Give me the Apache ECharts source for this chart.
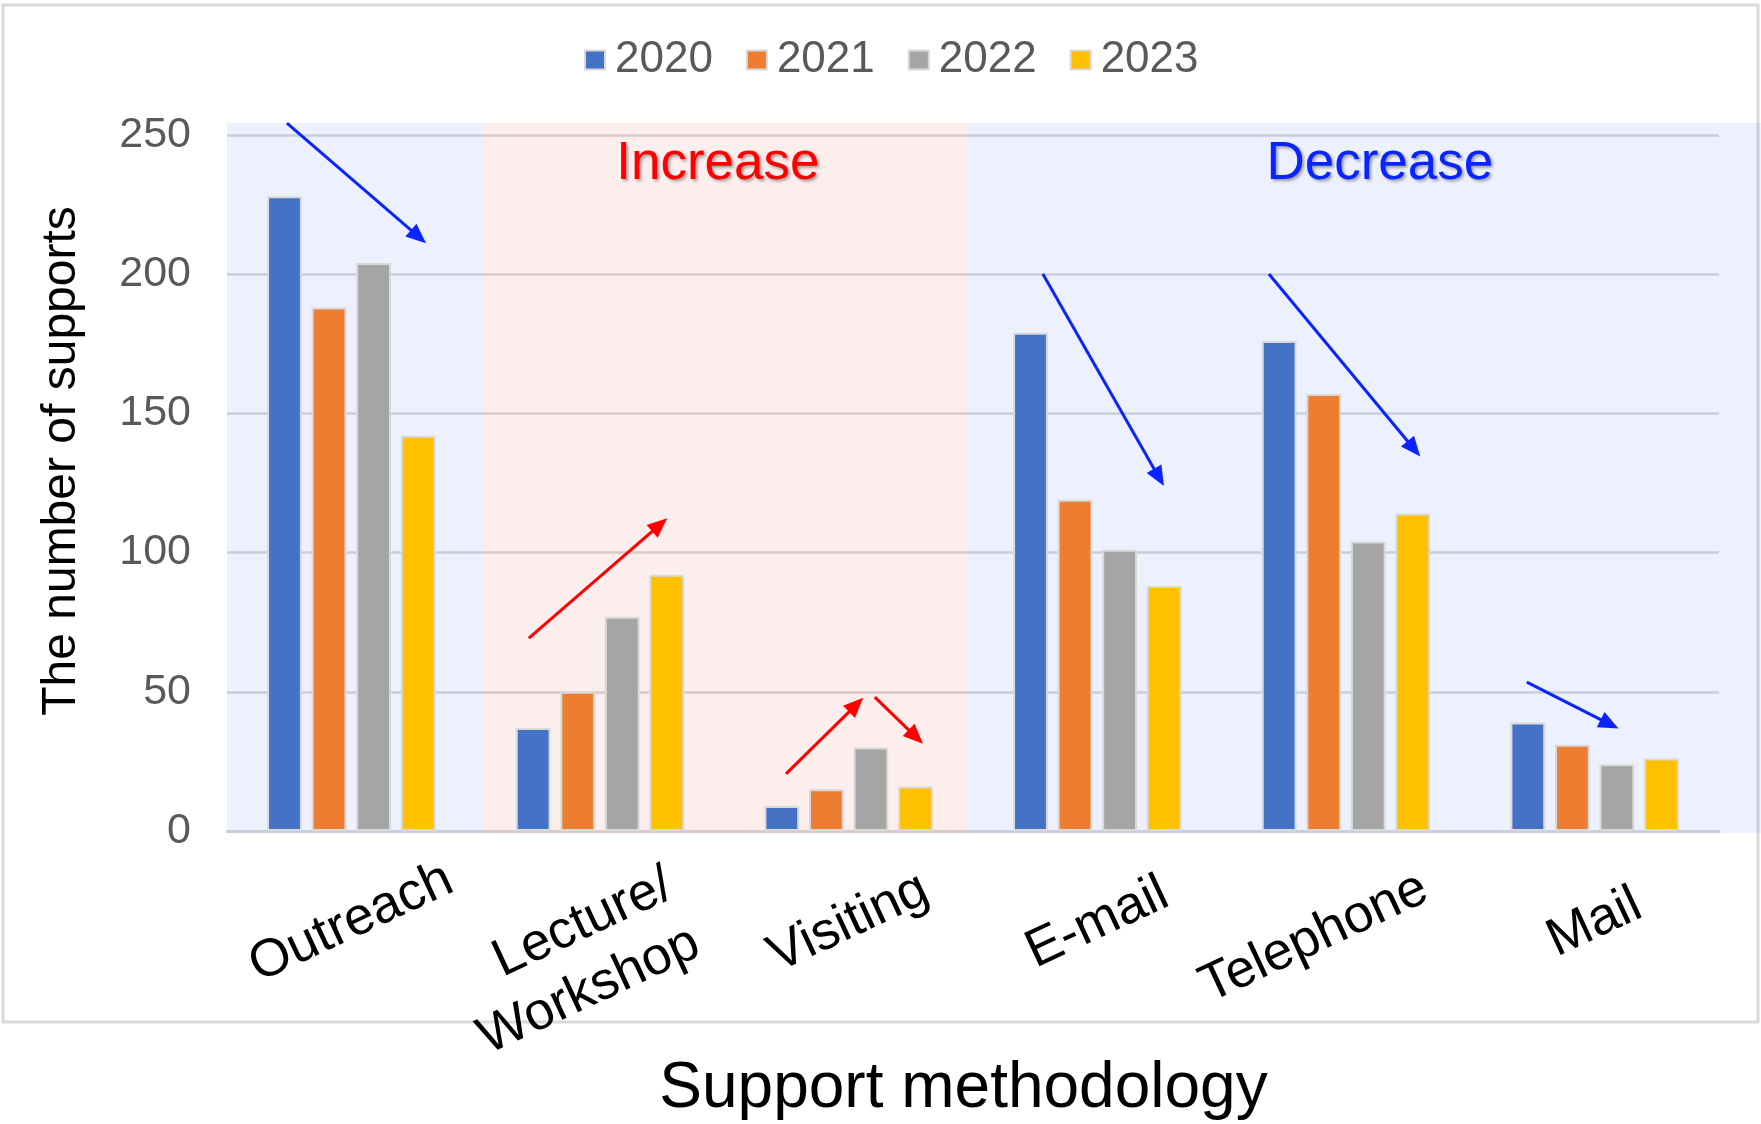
<!DOCTYPE html>
<html>
<head>
<meta charset="utf-8">
<script src="https://cdn.jsdelivr.net/npm/echarts@6/dist/echarts.min.js"></script>
<style>
  html, body { margin: 0; padding: 0; background: #ffffff; }
  #chart { width: 1761px; height: 1124px; }
</style>
</head>
<body>
<div id="chart"></div>
<script>
// ---- data ----
const categories = ['Outreach', 'Lecture/\nWorkshop', 'Visiting', 'E-mail', 'Telephone', 'Mail'];
const years = ['2020', '2021', '2022', '2023'];
const v2020 = [228, 37, 9, 179, 176, 39];
const v2021 = [188, 50, 15, 119, 157, 31];
const v2022 = [204, 77, 30, 101, 104, 24];
const v2023 = [142, 92, 16, 88, 114, 26];
const yTicks = [0, 50, 100, 150, 200, 250];

// trend annotations, in data units (x: category units 0..6, y: value)
const trendBands = [
  { from: 0, to: 1.033, tone: 'blue' },
  { from: 1.033, to: 2.976, tone: 'red' },
  { from: 2.976, to: 6.168, tone: 'blue' }
];
const trendArrows = [
  { tone: 'blue', from: [0.241, 254.3], to: [0.770, 213.5] },
  { tone: 'red',  from: [1.214, 69.3],  to: [1.740, 110.0] },
  { tone: 'red',  from: [2.248, 20.5],  to: [2.530, 45.3] },
  { tone: 'red',  from: [2.605, 48.1],  to: [2.770, 33.8] },
  { tone: 'blue', from: [3.281, 200.1], to: [3.748, 127.0] },
  { tone: 'blue', from: [4.190, 200.1], to: [4.773, 137.3] },
  { tone: 'blue', from: [5.227, 53.5],  to: [5.560, 38.4] }
];
const trendTexts = [
  { text: 'Increase', tone: 'red', at: [1.974, 239.5] },
  { text: 'Decrease', tone: 'blue', at: [4.636, 239.5] }
];

// ---- styles ----
const FONT = '"Liberation Sans", Arial, Helvetica, sans-serif';
const yearColors = ['#4472C4', '#ED7D31', '#A5A5A5', '#FFC000'];
const bandFill = { blue: 'rgba(30,90,235,0.085)', red: 'rgba(230,40,40,0.08)' };
const toneColor = { blue: '#0A24FF', red: '#FF0000' };
const seriesValues = [v2020, v2021, v2022, v2023];

// main plot geometry
const G = { left: 227, right: 42, top: 135, bottom: 293, W: 1761, H: 1124 };
const plotW = G.W - G.left - G.right;
const plotH = G.H - G.top - G.bottom;
const yMin = yTicks[0], yMax = yTicks[yTicks.length - 1];
const pxPerX = plotW / categories.length;
const pxPerY = plotH / (yMax - yMin);
// overlay grid: same scale, wider extent
const OX = [-0.2, 6.2], OY = [-10, 270];
const overlayGrid = {
  left: G.left + OX[0] * pxPerX,
  right: G.W - (G.left + OX[1] * pxPerX),
  top: G.top - (OY[1] - yMax) * pxPerY,
  bottom: G.bottom - (yMin - OY[0]) * pxPerY,
  outerBoundsMode: 'none'
};

const CAT_FONT = 53;
const baseCatLabel = { align: 'center', verticalAlign: 'middle' };
const categoryLabelStyle = {
  'Lecture/\nWorkshop': Object.assign({ padding: [50, 77, 0, 0] }, baseCatLabel),
  'Telephone': Object.assign({ padding: [0, 70, 0, 0] }, baseCatLabel)
};

const barSeries = years.map((y, i) => ({
  name: y,
  type: 'bar',
  xAxisIndex: 0,
  yAxisIndex: 0,
  data: seriesValues[i],
  barWidth: '14%',
  barGap: '28%',
  z: 2,
  itemStyle: { color: yearColors[i], borderColor: '#D9D9D9', borderWidth: 2 },
  emphasis: { disabled: true }
}));

const bandSeries = {
  name: '_bands',
  type: 'line',
  xAxisIndex: 1,
  yAxisIndex: 1,
  data: [],
  clip: false,
  silent: true,
  z: 4,
  markArea: {
    silent: true,
    label: { show: false },
    data: trendBands.map(b => [
      { coord: [b.from, 254.3], itemStyle: { color: bandFill[b.tone] } },
      { coord: [b.to, -0.8] }
    ])
  }
};

const arrowSeries = {
  name: '_arrows',
  type: 'line',
  xAxisIndex: 1,
  yAxisIndex: 1,
  data: [],
  clip: false,
  silent: true,
  z: 6,
  markLine: {
    silent: true,
    symbol: ['none', 'triangle'],
    symbolSize: [17, 20],
    label: { show: false },
    data: trendArrows.map(a => [
      { coord: a.from, lineStyle: { color: toneColor[a.tone], width: 3, type: 'solid' },
        itemStyle: { color: toneColor[a.tone] } },
      { coord: a.to, itemStyle: { color: toneColor[a.tone] } }
    ])
  },
  markPoint: {
    silent: true,
    symbol: 'circle',
    symbolSize: 1,
    itemStyle: { color: 'rgba(0,0,0,0)' },
    data: trendTexts.map(t => ({
      coord: t.at,
      label: {
        show: true,
        position: 'inside',
        formatter: t.text,
        color: toneColor[t.tone],
        fontFamily: FONT,
        fontSize: 53,
        textShadowColor: 'rgba(0,0,0,0.35)',
        textShadowBlur: 3,
        textShadowOffsetX: 2,
        textShadowOffsetY: 2
      }
    }))
  }
};

const chart = echarts.init(document.getElementById('chart'), null, { renderer: 'canvas' });
chart.setOption({
  animation: false,
  backgroundColor: '#ffffff',
  textStyle: { fontFamily: FONT },
  graphic: [{
    type: 'rect',
    z: -10,
    silent: true,
    shape: { x: 3, y: 5, width: 1755, height: 1017 },
    style: { fill: 'none', stroke: '#D9D9D9', lineWidth: 3 }
  }],
  legend: {
    data: years,
    left: 579,
    top: 33,
    itemWidth: 20,
    itemHeight: 19,
    itemGap: 33,
    icon: 'rect',
    textStyle: { fontFamily: FONT, fontSize: 44, color: '#595959', padding: [0, 0, 0, 5] }
  },
  grid: [
    { left: G.left, right: G.right, top: G.top, bottom: G.bottom, containLabel: false, outerBoundsMode: 'none' },
    overlayGrid
  ],
  xAxis: [{
    type: 'category',
    gridIndex: 0,
    data: categories.map(c => categoryLabelStyle[c]
      ? { value: c, textStyle: categoryLabelStyle[c] }
      : c),
    boundaryGap: true,
    axisLine: { show: true, lineStyle: { color: '#D9D9D9', width: 3 } },
    axisTick: { show: false },
    axisLabel: {
      interval: 0,
      rotate: 25,
      align: 'center',
      verticalAlign: 'middle',
      margin: 92,
      fontFamily: FONT,
      fontSize: CAT_FONT,
      lineHeight: 64,
      color: '#000000',
      formatter: v => v.indexOf('\n') >= 0
        ? v.split('\n').map(s => '{ra|' + s + '}').join('\n')
        : v,
      rich: {
        ra: { align: 'right', fontFamily: FONT, fontSize: CAT_FONT, lineHeight: 64, color: '#000000' }
      }
    },
    name: 'Support methodology',
    nameLocation: 'middle',
    nameGap: 226,
    nameMoveOverlap: false,
    nameTextStyle: { fontFamily: FONT, fontSize: 64, color: '#000000', padding: [0, 19, 0, 0] }
  }, {
    type: 'value',
    gridIndex: 1,
    min: OX[0],
    max: OX[1],
    show: false
  }],
  yAxis: [{
    type: 'value',
    gridIndex: 0,
    min: yMin,
    max: yMax,
    interval: yTicks[1] - yTicks[0],
    axisLine: { show: false },
    axisTick: { show: false },
    splitLine: { show: true, lineStyle: { color: '#D9D9D9', width: 2.5 } },
    axisLabel: { fontFamily: FONT, fontSize: 43, color: '#595959', margin: 36 },
    name: 'The number of supports',
    nameLocation: 'middle',
    nameRotate: 90,
    nameGap: 141,
    nameMoveOverlap: false,
    nameTextStyle: { fontFamily: FONT, fontSize: 48, color: '#000000', padding: [0, 0, 0, 44] }
  }, {
    type: 'value',
    gridIndex: 1,
    min: OY[0],
    max: OY[1],
    show: false
  }],
  series: [...barSeries, bandSeries, arrowSeries]
});
</script>
</body>
</html>
